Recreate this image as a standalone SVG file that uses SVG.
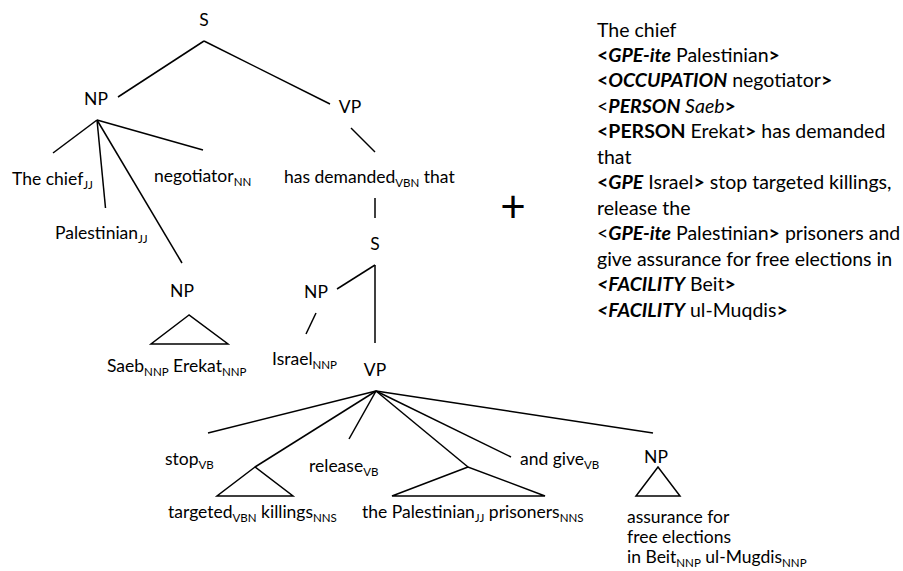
<svg xmlns="http://www.w3.org/2000/svg" width="903" height="571" viewBox="0 0 903 571">
<style>
text{font-family:Lato,"Liberation Sans",sans-serif;font-size:17.5px;fill:#000}
.m{text-anchor:middle}
.s{font-size:11.5px}
.b{font-weight:bold}
.bi{font-weight:bold;font-style:italic}
.i{font-style:italic}
#annotated text{font-size:19.5px}
#edges line,#edges polygon{stroke:#000;stroke-width:1.5;fill:none}
</style>
<rect width="903" height="571" fill="#fff"/>
<g id="edges">
<line x1="204" y1="41" x2="118" y2="97"/>
<line x1="204" y1="41" x2="330" y2="104"/>
<line x1="97" y1="120" x2="53" y2="153"/>
<line x1="97" y1="120" x2="203" y2="150"/>
<line x1="97" y1="120" x2="105.5" y2="208"/>
<line x1="97" y1="120" x2="182" y2="263"/>
<line x1="351" y1="128" x2="375" y2="152"/>
<line x1="375" y1="198" x2="375" y2="218"/>
<line x1="375" y1="265" x2="337" y2="289"/>
<line x1="375" y1="265" x2="375" y2="343"/>
<line x1="316" y1="313" x2="306" y2="334"/>
<polygon points="189,315 151,344 228,344"/>
<line x1="376" y1="391" x2="208" y2="433"/>
<line x1="376" y1="391" x2="255" y2="467"/>
<line x1="376" y1="391" x2="349" y2="439"/>
<line x1="376" y1="391" x2="468" y2="467"/>
<line x1="376" y1="391" x2="511" y2="457"/>
<line x1="376" y1="391" x2="653" y2="433"/>
<polygon points="255,467 217,496 293,496"/>
<polygon points="468,467 392,496 545,496"/>
<polygon points="658,467 636,496 680,496"/>
</g>
<g id="S"><text class="m" x="204" y="26">S</text></g>
<g id="NP1"><text class="m" x="96" y="105">NP</text></g>
<g id="VP1"><text class="m" x="350" y="113">VP</text></g>
<g id="thechief"><text x="12" y="185">The chief<tspan class="s" dy="4">JJ</tspan></text></g>
<g id="negotiator"><text x="154" y="182">negotiator<tspan class="s" dy="4">NN</tspan></text></g>
<g id="hasdemanded"><text x="284" y="183">has demanded<tspan class="s" dy="4">VBN</tspan><tspan dy="-4"> that</tspan></text></g>
<g id="palestinian"><text x="55" y="239">Palestinian<tspan class="s" dy="4">JJ</tspan></text></g>
<g id="S2"><text class="m" x="375" y="250">S</text></g>
<g id="NP2"><text class="m" x="182" y="297">NP</text></g>
<g id="NP3"><text class="m" x="316" y="298">NP</text></g>
<g id="saeb"><text x="107" y="372">Saeb<tspan class="s" dy="4">NNP</tspan><tspan dy="-4"> Erekat</tspan><tspan class="s" dy="4">NNP</tspan></text></g>
<g id="israel"><text x="272" y="365">Israel<tspan class="s" dy="4">NNP</tspan></text></g>
<g id="VP2"><text class="m" x="375" y="376">VP</text></g>
<g id="stop"><text x="165" y="465">stop<tspan class="s" dy="4">VB</tspan></text></g>
<g id="release"><text x="309" y="472">release<tspan class="s" dy="4">VB</tspan></text></g>
<g id="andgive"><text x="520" y="465">and give<tspan class="s" dy="4">VB</tspan></text></g>
<g id="NP4"><text class="m" x="656" y="463">NP</text></g>
<g id="targeted"><text x="168" y="518">targeted<tspan class="s" dy="4">VBN</tspan><tspan dy="-4"> killings</tspan><tspan class="s" dy="4">NNS</tspan></text></g>
<g id="prisoners"><text x="362" y="518">the Palestinian<tspan class="s" dy="4">JJ</tspan><tspan dy="-4"> prisoners</tspan><tspan class="s" dy="4">NNS</tspan></text></g>
<g id="assurance"><text x="627" y="523">assurance for</text><text x="627" y="543">free elections</text><text x="627" y="563">in Beit<tspan class="s" dy="4">NNP</tspan><tspan dy="-4"> ul-Mugdis</tspan><tspan class="s" dy="4">NNP</tspan></text></g>
<g id="plus"><text class="m" x="513" y="222" style="font-size:44px">+</text></g>
<g id="annotated">
<text x="597" y="36.5">The chief</text>
<text x="597" y="62"><tspan class="b">&lt;</tspan><tspan class="bi">GPE-ite</tspan> Palestinian<tspan class="b">&gt;</tspan></text>
<text x="597" y="87.4"><tspan class="b">&lt;</tspan><tspan class="bi">OCCUPATION</tspan> negotiator<tspan class="b">&gt;</tspan></text>
<text x="597" y="112.9">&lt;<tspan class="bi">PERSON</tspan><tspan class="i"> Saeb</tspan><tspan class="b">&gt;</tspan></text>
<text x="597" y="138.3"><tspan class="b">&lt;PERSON</tspan> Erekat<tspan class="b">&gt;</tspan> has demanded</text>
<text x="597" y="163.8">that</text>
<text x="597" y="189.2"><tspan class="b">&lt;</tspan><tspan class="bi">GPE</tspan> Israel<tspan class="b">&gt;</tspan> stop targeted killings,</text>
<text x="597" y="214.7">release the</text>
<text x="597" y="240.1">&lt;<tspan class="bi">GPE-ite</tspan> Palestinian<tspan class="b">&gt;</tspan> prisoners and</text>
<text x="597" y="265.6">give assurance for free elections in</text>
<text x="597" y="291"><tspan class="bi">&lt;FACILITY</tspan> Beit<tspan class="b">&gt;</tspan></text>
<text x="597" y="316.5"><tspan class="bi">&lt;FACILITY</tspan> ul-Muqdis<tspan class="b">&gt;</tspan></text>
</g>
</svg>
